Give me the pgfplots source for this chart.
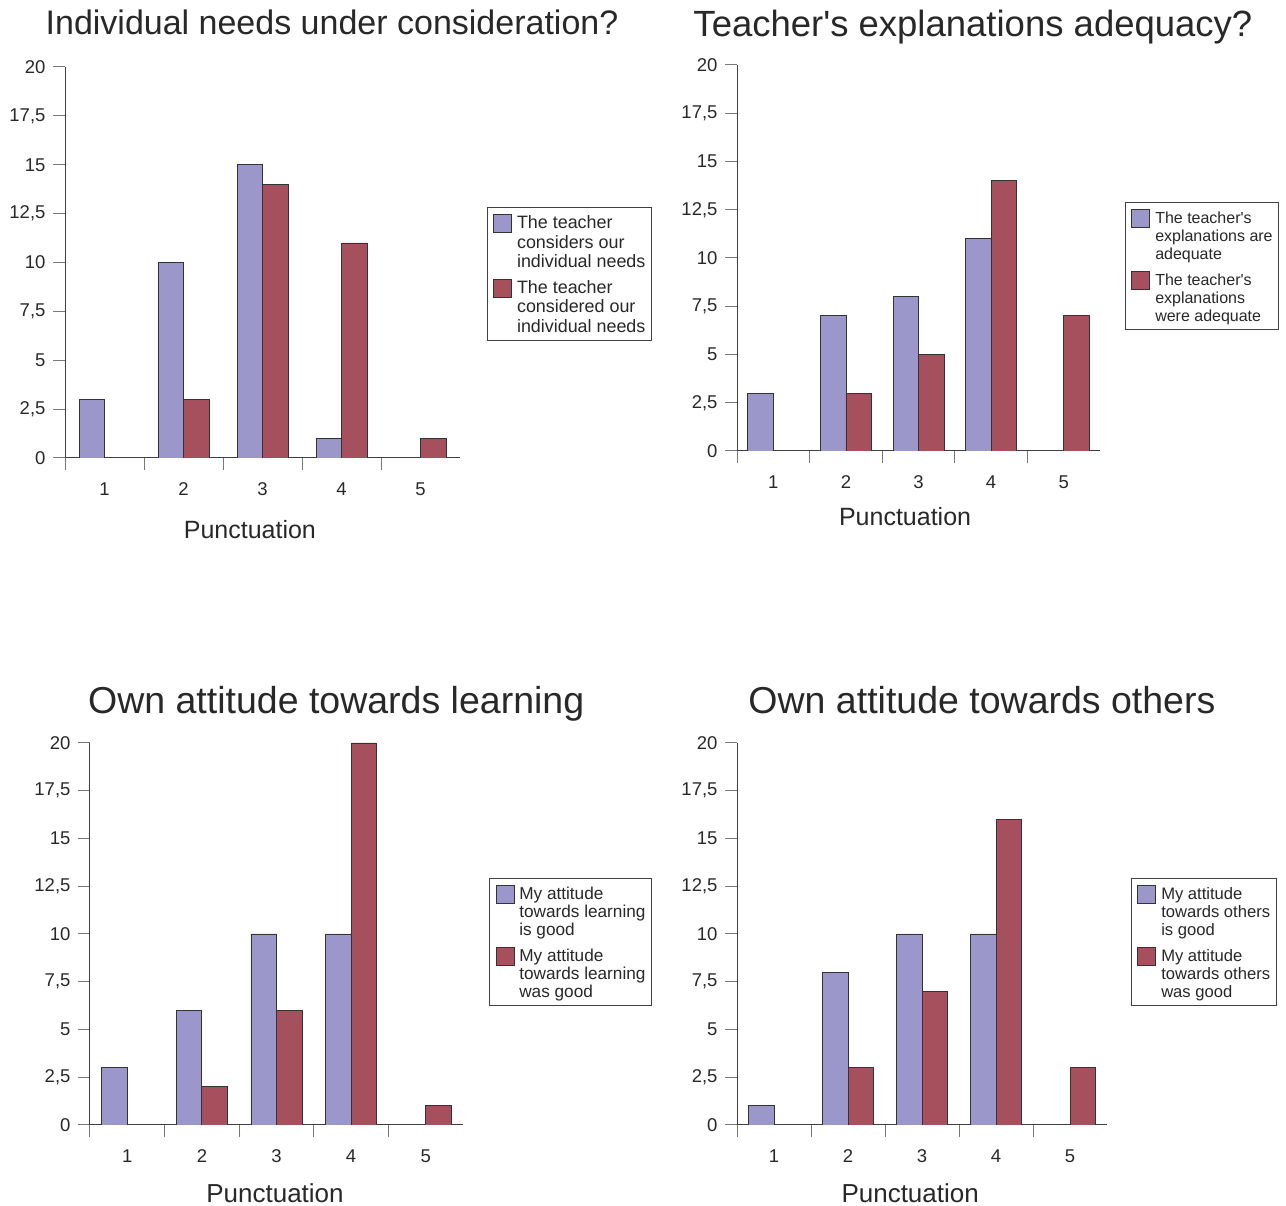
\documentclass[border=0pt]{standalone}
\usepackage{fontspec}
\setmainfont{Liberation Sans}
\usepackage{pgfplots}
\pgfplotsset{compat=1.18}

\definecolor{barblue}{RGB}{155,151,202}
\definecolor{barred}{RGB}{166,80,94}
\definecolor{edge}{RGB}{51,51,51}
\definecolor{axisline}{RGB}{64,64,64}
\definecolor{tickc}{RGB}{120,120,120}
\definecolor{txt}{RGB}{40,40,40}

\newcommand{\fs}[2]{\fontsize{#1}{#2}\selectfont}
% three-line legend entry; the box sits on its last line
\newcommand{\three}[3]{\vbox{\hbox{#1}\hbox{#2}\hbox{#3}}}

\pgfplotsset{
  survey/.style={
    scale only axis, axis lines*=left, enlargelimits=false,
    ybar=0pt, bar width=25.5pt,
    xmin=0.5, xmax=5.5, ymin=0, ymax=20,
    xtick={1,2,3,4,5}, minor xtick={0.5,1.5,2.5,3.5,4.5},
    ytick={0,2.5,5,7.5,10,12.5,15,17.5,20},
    yticklabels={0,{2,5},5,{7,5},10,{12,5},15,{17,5},20},
    tick align=outside, major tick length=12pt, minor tick length=12pt,
    tick style={draw=tickc, line width=1pt},
    major x tick style={draw=none},
    axis line style={draw=axisline, line width=1pt},
    tick label style={font=\fs{18.5}{20}, text=txt},
    /pgf/number format/assume math mode=true,
    xticklabel style={anchor=base, yshift=-26pt},
    yticklabel style={xshift=-4pt},
    title style={anchor=base, text=txt},
    xlabel style={anchor=base, text=txt},
    legend cell align=left,
    legend style={anchor=north west, draw=axisline, line width=0.8pt,
      inner xsep=6pt, inner ysep=7pt, row sep=9.5pt,
      nodes={inner sep=0pt, anchor=base west, text=txt},
      /tikz/every odd column/.style={column sep=5pt}},
  },
  % square key, raised to the first of the three lines
  sq/.style={legend image code/.code={%
      \draw[##1, draw=edge, line width=0.8pt] (0pt,#1-4pt) rectangle (18pt,#1+14pt);}},
  blueb/.style={fill=barblue, draw=edge, line width=0.8pt, sq=#1},
  redb/.style={fill=barred, draw=edge, line width=0.8pt, sq=#1},
}

\begin{document}
\begin{tikzpicture}
\useasboundingbox (0,0) rectangle (1286pt,1206pt);

% Individual needs
\begin{axis}[survey, at={(65pt,748pt)}, anchor=south west,
  width=395pt, height=391pt,
  title={Individual needs under consideration?},
  title style={at={(0.676,1.069)}, font=\fs{34}{40}},
  xlabel={Punctuation},
  xlabel style={at={(0.468,-0.207)}, font=\fs{25}{30}},
  legend style={at={(1.068,0.642)}, font=\fs{17.9}{19.5}}]
\addplot[blueb=39pt] coordinates {(1,3) (2,10) (3,15) (4,1)};
\addlegendentry{\three{The teacher}{considers our}{individual needs}}
\addplot[redb=39pt] coordinates {(2,3) (3,14) (4,11) (5,1)};
\addlegendentry{\three{The teacher}{considered our}{individual needs}}
\end{axis}

% Teacher's explanations
\begin{axis}[survey, at={(737pt,755pt)}, anchor=south west,
  width=363pt, height=386pt,
  title={Teacher\textquotesingle s explanations adequacy?},
  title style={at={(0.650,1.058)}, font=\fs{36.5}{42}},
  xlabel={Punctuation},
  xlabel style={at={(0.463,-0.194)}, font=\fs{25}{30}},
  legend style={at={(1.069,0.645)}, font=\fs{16}{18}}]
\addplot[blueb=36pt] coordinates {(1,3) (2,7) (3,8) (4,11)};
\addlegendentry{\three{The teacher\textquotesingle s}{explanations are}{adequate}}
\addplot[redb=36pt] coordinates {(2,3) (3,5) (4,14) (5,7)};
\addlegendentry{\three{The teacher\textquotesingle s}{explanations}{were adequate}}
\end{axis}

% Attitude towards learning
\begin{axis}[survey, at={(90pt,81pt)}, anchor=south west,
  width=373pt, height=382pt,
  title={Own attitude towards learning},
  title style={at={(0.660,1.061)}, font=\fs{37.5}{44}},
  xlabel={Punctuation},
  xlabel style={at={(0.496,-0.202)}, font=\fs{26}{30}},
  legend style={at={(1.070,0.647)}, font=\fs{17.2}{18}}]
\addplot[blueb=36pt] coordinates {(1,3) (2,6) (3,10) (4,10)};
\addlegendentry{\three{My attitude}{towards learning}{is good}}
\addplot[redb=36pt] coordinates {(2,2) (3,6) (4,20) (5,1)};
\addlegendentry{\three{My attitude}{towards learning}{was good}}
\end{axis}

% Attitude towards others
\begin{axis}[survey, at={(737pt,81pt)}, anchor=south west,
  width=370pt, height=382pt,
  title={Own attitude towards others},
  title style={at={(0.662,1.061)}, font=\fs{37.5}{44}},
  xlabel={Punctuation},
  xlabel style={at={(0.468,-0.202)}, font=\fs{26}{30}},
  legend style={at={(1.065,0.647)}, font=\fs{16.6}{18}}]
\addplot[blueb=36pt] coordinates {(1,1) (2,8) (3,10) (4,10)};
\addlegendentry{\three{My attitude}{towards others}{is good}}
\addplot[redb=36pt] coordinates {(2,3) (3,7) (4,16) (5,3)};
\addlegendentry{\three{My attitude}{towards others}{was good}}
\end{axis}
\end{tikzpicture}
\end{document}
